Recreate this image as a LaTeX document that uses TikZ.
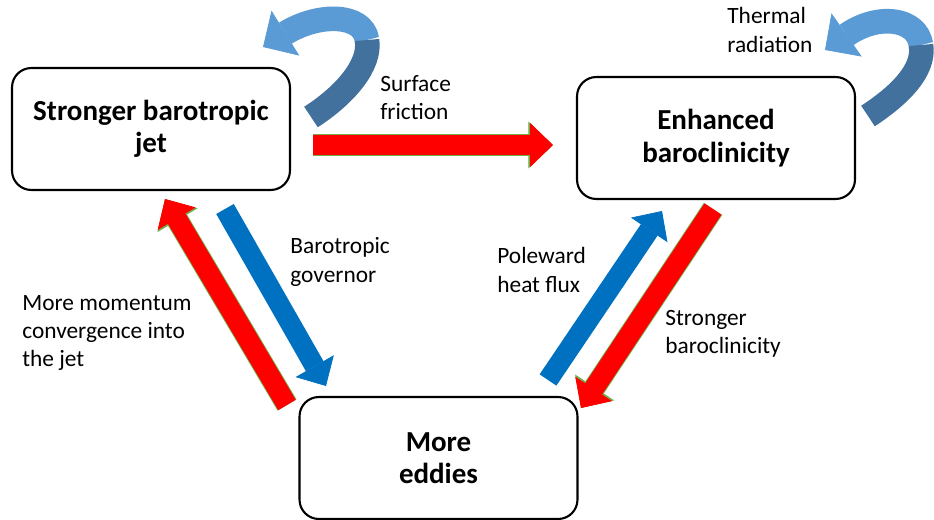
\documentclass[tikz,border=0pt]{standalone}
\usepackage{fontspec}
\setmainfont{Carlito}
\usetikzlibrary{arrows.meta}

\definecolor{myblue}{RGB}{0,112,192}
\definecolor{leafgreen}{RGB}{112,173,71}
\definecolor{looplt}{RGB}{91,155,213}
\definecolor{loopdk}{RGB}{65,113,156}

\tikzset{
  box/.style={draw, line width=1.2pt, rounded corners=11pt, minimum width=5.56cm,
    minimum height=2.44cm, align=center, font=\fontsize{16.5}{18.5}\selectfont\bfseries},
  lbl/.style={anchor=west, align=left, inner sep=0pt, font=\fontsize{13.3}{16}\selectfont},
  redfat/.style={red, line width=11.5pt, -{Triangle[length=13pt,width=25pt,line width=0.4pt]},
    preaction={draw=leafgreen, line width=12.5pt, -{Triangle[length=14pt,width=26.5pt,line width=0.4pt]}}},
  bluefat/.style={myblue, line width=11.5pt, -{Triangle[length=13pt,width=25pt,line width=0.4pt]}},
  loopdark/.style={loopdk, line width=14pt},
  looplight/.style={looplt, line width=14pt, -{Triangle[length=15pt,width=30pt,line width=0.4pt]}},
}

\begin{document}
\begin{tikzpicture}[x=0.02cm, y=-0.02cm]
        \useasboundingbox (0,0) rectangle (934,520);
        % Boxes
        \node[box] (jet) at (151,129) {Stronger barotropic\\jet};
        \node[box] (baro) at (716,138) {Enhanced\\baroclinicity};
        \node[box] (eddies) at (438.5,458) {More\\eddies};

        % Labels
        \node[lbl] (friction) at (380,98) {Surface\\friction};
        \node[lbl] (thermal) at (727,30) {Thermal\\radiation};
        \node[lbl] (governor) at (290,262) {Barotropic\\governor};
        \node[lbl] (momentum) at (22,333) {More momentum\\convergence into\\the jet};
        \node[lbl] (poleward) at (497,270) {Poleward\\heat flux};
        \node[lbl] (strong) at (665,334) {Stronger\\baroclinicity};

        % Arrow ends
        \coordinate (f-tail) at (313,145); \coordinate (f-tip) at (553,145);
        \coordinate (g-tail) at (225,209); \coordinate (g-tip) at (326,386);
        \coordinate (m-tail) at (287,405); \coordinate (m-tip) at (165,199);
        \coordinate (h-tail) at (548,380); \coordinate (h-tip) at (662,211);
        \coordinate (s-tail) at (713,209); \coordinate (s-tip) at (581,408);

        % Straight block arrows
        \draw[redfat] (f-tail) -- (f-tip);
        \draw[bluefat] (g-tail) -- (g-tip);
        \draw[redfat] (m-tail) -- (m-tip);
        \draw[bluefat] (h-tail) -- (h-tip);
        \draw[redfat] (s-tail) -- (s-tip);

        % Curved arrows over the top boxes
        \coordinate (jl-tail) at (311,117); \coordinate (jl-turn) at (367,40); \coordinate (jl-tip) at (263,47);
        \coordinate (bl-tail) at (868,116); \coordinate (bl-turn) at (921,45); \coordinate (bl-tip) at (825,50);
        \draw[looplight] (jl-turn) .. controls (363,13) and (318,13) .. (jl-tip);
        \draw[loopdark] (jl-tail) .. controls (345,95) and (371,65) .. (jl-turn);
        \draw[looplight] (bl-turn) .. controls (917,18) and (878,13) .. (bl-tip);
        \draw[loopdark] (bl-tail) .. controls (900,95) and (925,70) .. (bl-turn);
\end{tikzpicture}
\end{document}
